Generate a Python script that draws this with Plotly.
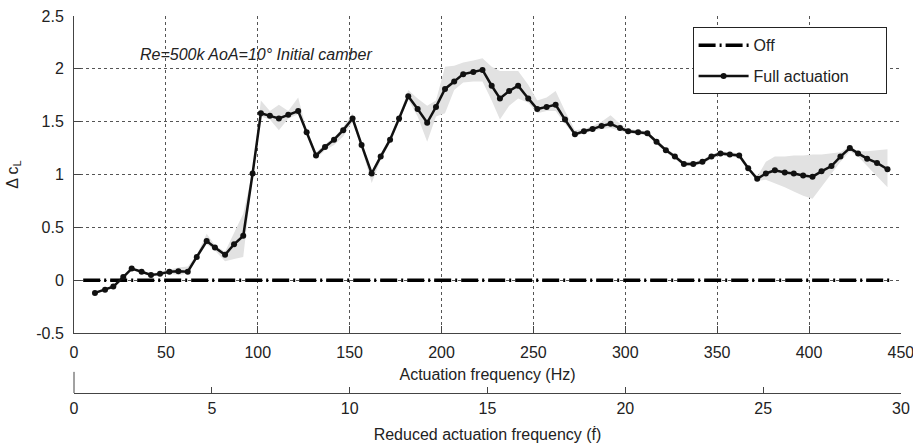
import plotly.graph_objects as go

# ---- data ----
freq_hz = [11.4, 16.9, 21.4, 26.8, 31.4, 36.8, 41.9, 46.8, 51.9, 56.8,
           61.9, 66.8, 72.2, 76.7, 82.2, 87.1, 92.1, 97.2, 101.7, 106.6,
           111.5, 116.6, 122.0, 126.6, 131.7, 136.6, 141.5, 146.5, 151.6, 156.5,
           162.0, 166.9, 172.0, 176.9, 181.9, 187.0, 192.2, 197.0, 201.9, 206.9,
           211.8, 217.3, 222.3, 227.3, 231.8, 236.8, 241.7, 247.2, 252.1, 257.2,
           262.1, 267.2, 272.6, 277.5, 282.2, 287.1, 292.0, 297.1, 301.6, 307.0,
           312.0, 317.0, 322.1, 327.0, 331.9, 337.0, 342.0, 346.9, 351.8, 356.9,
           362.0, 366.9, 371.8, 376.5, 381.4, 386.8, 391.7, 396.8, 401.9, 406.8,
           412.2, 417.1, 422.2, 426.7, 431.6, 437.0, 442.7]

dcl_full = [-0.12, -0.09, -0.06, 0.03, 0.11, 0.08, 0.05, 0.06, 0.08, 0.085,
            0.08, 0.22, 0.37, 0.31, 0.24, 0.34, 0.42, 1.01, 1.58, 1.555,
            1.53, 1.565, 1.60, 1.40, 1.18, 1.26, 1.33, 1.42, 1.53, 1.28,
            1.01, 1.17, 1.33, 1.53, 1.74, 1.62, 1.49, 1.64, 1.81, 1.88,
            1.95, 1.97, 1.99, 1.84, 1.72, 1.79, 1.84, 1.72, 1.62, 1.64,
            1.66, 1.52, 1.38, 1.41, 1.43, 1.46, 1.48, 1.44, 1.41, 1.40,
            1.39, 1.31, 1.23, 1.17, 1.10, 1.10, 1.12, 1.17, 1.20, 1.19,
            1.18, 1.06, 0.96, 1.01, 1.04, 1.02, 1.01, 0.99, 0.98, 1.03,
            1.08, 1.17, 1.25, 1.20, 1.15, 1.11, 1.05]

dcl_lo = [-0.13, -0.10, -0.07, 0.02, 0.10, 0.07, 0.04, 0.05, 0.06, 0.05,
          0.06, 0.20, 0.34, 0.28, 0.18, 0.20, 0.22, 0.99, 1.55, 1.52,
          1.42, 1.53, 1.57, 1.38, 1.15, 1.23, 1.28, 1.36, 1.50, 1.25,
          0.92, 1.14, 1.30, 1.50, 1.71, 1.55, 1.31, 1.55, 1.58, 1.80,
          1.87, 1.88, 1.88, 1.70, 1.52, 1.65, 1.72, 1.68, 1.58, 1.60,
          1.60, 1.48, 1.36, 1.39, 1.41, 1.43, 1.44, 1.41, 1.39, 1.38,
          1.37, 1.29, 1.21, 1.15, 1.08, 1.08, 1.10, 1.15, 1.18, 1.17,
          1.16, 1.04, 0.94, 0.95, 0.92, 0.88, 0.84, 0.80, 0.77, 0.88,
          1.00, 1.12, 1.22, 1.17, 1.08, 0.98, 0.88]

dcl_hi = [-0.11, -0.08, -0.05, 0.04, 0.12, 0.09, 0.06, 0.08, 0.10, 0.12,
          0.13, 0.24, 0.44, 0.33, 0.27, 0.45, 0.63, 1.03, 1.70, 1.60,
          1.66, 1.60, 1.73, 1.42, 1.21, 1.29, 1.35, 1.45, 1.58, 1.30,
          1.03, 1.20, 1.35, 1.55, 1.80, 1.72, 1.65, 1.70, 2.02, 2.03,
          2.06, 2.08, 2.10, 2.02, 1.98, 1.98, 1.98, 1.85, 1.70, 1.73,
          1.79, 1.60, 1.42, 1.43, 1.46, 1.50, 1.56, 1.48, 1.43, 1.42,
          1.41, 1.33, 1.25, 1.19, 1.12, 1.12, 1.14, 1.19, 1.22, 1.21,
          1.20, 1.08, 0.98, 1.12, 1.17, 1.17, 1.18, 1.18, 1.19, 1.19,
          1.20, 1.21, 1.27, 1.22, 1.22, 1.23, 1.24]

off_freq = [5, 445]
off_dcl = [0, 0]

x_ticks_hz = [0, 50, 100, 150, 200, 250, 300, 350, 400, 450]
y_ticks = [-0.5, 0, 0.5, 1, 1.5, 2, 2.5]
y_tick_labels = ["-0.5", "0", "0.5", "1", "1.5", "2", "2.5"]
x2_ticks = [0, 5, 10, 15, 20, 25, 30]

AX = "#444444"
TXT = "#222222"
FONT = "Liberation Sans, Arial, sans-serif"
FS = 16
PAD = "\u00a0" * 7

fig = go.Figure()
fig.add_trace(go.Scatter(x=freq_hz, y=dcl_lo, mode="lines", line=dict(width=0),
                         showlegend=False, hoverinfo="skip", legendgroup="band"))
fig.add_trace(go.Scatter(x=freq_hz, y=dcl_hi, mode="lines", line=dict(width=0),
                         fill="tonexty", fillcolor="#e2e2e2",
                         showlegend=False, hoverinfo="skip", legendgroup="band"))
fig.add_trace(go.Scatter(x=off_freq, y=off_dcl, mode="lines", name="Off",
                         legendgroup="off",
                         line=dict(color="black", width=3.5, dash="17px,4px,2px,4px")))
fig.add_trace(go.Scatter(x=freq_hz, y=dcl_full, mode="lines+markers",
                         name="Full actuation" + PAD, legendgroup="full",
                         line=dict(color="#111111", width=2.5),
                         marker=dict(size=6, color="#111111", symbol="circle")))
# empty trace so that the secondary (reduced-frequency) axis is drawn
fig.add_trace(go.Scatter(x=x2_ticks, y=[None] * len(x2_ticks), xaxis="x2", yaxis="y",
                         mode="lines", showlegend=False, hoverinfo="skip"))

fig.add_annotation(text="<i>Re=500k AoA=10° Initial camber</i>",
                   xref="paper", x=0.0774, xanchor="left",
                   yref="y", y=2.14, yanchor="middle",
                   showarrow=False, font=dict(size=FS, color=TXT, family=FONT))

# short vertical stub at the left of the secondary axis
fig.add_shape(type="line", xref="paper", yref="paper", x0=0, x1=0, y0=0, y1=0.056,
              line=dict(color=AX, width=1))

fig.update_layout(
    width=913, height=448,
    margin=dict(l=74, r=12, t=16, b=55),
    paper_bgcolor="white", plot_bgcolor="white",
    font=dict(family=FONT, size=FS, color=TXT),
    showlegend=True,
    legend=dict(x=0.748, y=0.97, xanchor="left", yanchor="top", traceorder="grouped",
                tracegroupgap=7,
                bordercolor="#222222", borderwidth=1, bgcolor="white",
                font=dict(size=FS, color=TXT), itemwidth=50),
    xaxis=dict(domain=[0, 1], range=[0, 450.05], anchor="y",
               tickmode="array", tickvals=x_ticks_hz, ticklabeloverflow="allow",
               ticks="inside", ticklen=7, tickcolor=AX, ticklabelstandoff=5,
               showline=True, linecolor=AX, linewidth=1, mirror=False,
               showgrid=True, gridcolor="#555555", griddash="dot", gridwidth=1,
               zeroline=False, automargin=False,
               title=dict(text="Actuation frequency (Hz)", standoff=8,
                          font=dict(size=FS, color=TXT))),
    yaxis=dict(domain=[0.159, 1], range=[-0.5, 2.5],
               tickmode="array", tickvals=y_ticks, ticktext=y_tick_labels,
               ticks="inside", ticklen=7, tickcolor=AX, ticklabelstandoff=6,
               showline=True, linecolor=AX, linewidth=1,
               showgrid=True, gridcolor="#555555", griddash="dot", gridwidth=1,
               zeroline=False, automargin=False,
               title=dict(text="Δ c<sub>L</sub>", standoff=13,
                          font=dict(size=FS, color=TXT))),
    xaxis2=dict(domain=[0, 1], range=[0, 30], overlaying="x", anchor="free", position=0,
                side="bottom",
                tickmode="array", tickvals=x2_ticks, ticklabeloverflow="allow",
                ticks="inside", ticklen=6, tickcolor=AX, ticklabelstandoff=1,
                showline=True, linecolor=AX, linewidth=1,
                showgrid=False, zeroline=False, automargin=False,
                title=dict(text="Reduced actuation frequency (ḟ)", standoff=12,
                           font=dict(size=FS, color=TXT))),
)

fig.write_html("out.html", config={"displayModeBar": False},
               post_script="document.body.style.margin='0';")
